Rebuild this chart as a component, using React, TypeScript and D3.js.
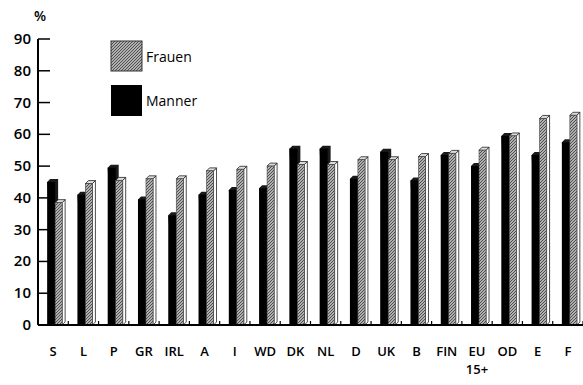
import { useEffect, useRef } from "react"
import * as d3 from "d3"

const categories = ["S", "L", "P", "GR", "IRL", "A", "I", "WD", "DK", "NL", "D", "UK", "B", "FIN", "EU\n15+", "OD", "E", "F"]
const maenner = [45, 41, 49.5, 39.5, 34.5, 41, 42.5, 43, 55.5, 55.5, 46, 54.5, 45.5, 53.5, 50, 59.5, 53.5, 57.5]
const frauen = [38.5, 44.5, 45.5, 46, 46, 48.5, 49, 50, 50.5, 50.5, 52, 52, 53, 54, 55, 59.5, 65, 66]
const yTicks = [0, 10, 20, 30, 40, 50, 60, 70, 80, 90]

const W = 583
const H = 385

export default function App() {
  const svgRef = useRef<SVGSVGElement>(null)

  useEffect(() => {
    if (!svgRef.current) return
    const svg = d3.select(svgRef.current)
    svg.selectAll("*").remove()

    const left = 38
    const right = W
    const top = 39
    const bottom = 325
    const font = "'Open Sans', sans-serif"

    const x = d3.scaleBand<string>().domain(categories).range([left, right])
    const y = d3.scaleLinear().domain([0, 90]).range([bottom, top])

    // hatch pattern for Frauen
    const defs = svg.append("defs")
    const pat = defs
      .append("pattern")
      .attr("id", "hatch")
      .attr("patternUnits", "userSpaceOnUse")
      .attr("width", 3)
      .attr("height", 3)
    pat.append("rect").attr("width", 3).attr("height", 3).attr("fill", "#b0b0b0")
    pat.append("path").attr("d", "M0,3 L3,0").attr("stroke", "#444").attr("stroke-width", 0.9)

    const g = svg.append("g")
    const bw = 8
    const gw = 7
    const depth = 3

    categories.forEach((c, i) => {
      const cx = (x(c) || 0) + x.bandwidth() / 2
      // black bar (Maenner)
      const by = y(maenner[i])
      const bx = cx - 6
      g.append("path")
        .attr("d", `M${bx},${by} l${depth},${-depth} l${bw},0 l0,${bottom - by} l${-depth},${depth} Z`)
        .attr("fill", "#1a1a1a")
      g.append("rect").attr("x", bx).attr("y", by).attr("width", bw).attr("height", bottom - by).attr("fill", "#000")

      // gray bar (Frauen)
      const fy = y(frauen[i])
      const fx = cx + 2
      g.append("path")
        .attr("d", `M${fx + gw},${fy} l${depth},${-depth} l0,${bottom - fy} l${-depth},${depth} Z`)
        .attr("fill", "#fff")
        .attr("stroke", "#222")
        .attr("stroke-width", 0.8)
      g.append("path")
        .attr("d", `M${fx},${fy} l${depth},${-depth} l${gw},0 l${-depth},${depth} Z`)
        .attr("fill", "#ddd")
        .attr("stroke", "#222")
        .attr("stroke-width", 0.8)
      g.append("rect")
        .attr("x", fx)
        .attr("y", fy)
        .attr("width", gw)
        .attr("height", bottom - fy)
        .attr("fill", "url(#hatch)")
        .attr("stroke", "#444")
        .attr("stroke-width", 0.6)

      // separator tick
      g.append("line")
        .attr("x1", (x(c) || 0) + x.bandwidth())
        .attr("x2", (x(c) || 0) + x.bandwidth())
        .attr("y1", bottom)
        .attr("y2", bottom - 4)
        .attr("stroke", "#000")
        .attr("stroke-width", 1.2)

      // category label
      const lines = c.split("\n")
      lines.forEach((t, k) => {
        g.append("text")
          .attr("x", cx)
          .attr("y", 356 + k * 18)
          .attr("text-anchor", "middle")
          .attr("font-family", font)
          .attr("font-size", 13)
          .attr("font-weight", 600)
          .attr("fill", "#000")
          .text(t)
      })
    })

    // x axis line
    g.append("line")
      .attr("x1", left)
      .attr("x2", right)
      .attr("y1", bottom)
      .attr("y2", bottom)
      .attr("stroke", "#000")
      .attr("stroke-width", 2)

    // y axis
    g.append("line")
      .attr("x1", left)
      .attr("x2", left)
      .attr("y1", bottom)
      .attr("y2", top)
      .attr("stroke", "#000")
      .attr("stroke-width", 2)

    yTicks.forEach((t) => {
      g.append("line")
        .attr("x1", left)
        .attr("x2", left + 12)
        .attr("y1", y(t))
        .attr("y2", y(t))
        .attr("stroke", "#000")
        .attr("stroke-width", 1.5)
      g.append("text")
        .attr("x", 31)
        .attr("y", y(t) + 5)
        .attr("text-anchor", "end")
        .attr("font-family", font)
        .attr("font-size", 15)
        .attr("font-weight", 600)
        .attr("fill", "#000")
        .text(t)
    })

    g.append("text")
      .attr("x", 40)
      .attr("y", 21)
      .attr("text-anchor", "middle")
      .attr("font-family", font)
      .attr("font-size", 14)
      .attr("font-weight", 600)
      .attr("fill", "#000")
      .text("%")

    // legend
    const leg = svg.append("g")
    leg.append("rect").attr("x", 111).attr("y", 41).attr("width", 31).attr("height", 30).attr("fill", "url(#hatch)").attr("stroke", "#333")
    leg.append("text").attr("x", 146).attr("y", 62).attr("font-family", font).attr("font-size", 14).attr("fill", "#000").text("Frauen")
    leg.append("rect").attr("x", 111).attr("y", 85).attr("width", 31).attr("height", 31).attr("fill", "#000")
    leg.append("text").attr("x", 146).attr("y", 106).attr("font-family", font).attr("font-size", 14).attr("fill", "#000").text("Manner")
  }, [])

  return (
    <svg
      ref={svgRef}
      width={W}
      height={H}
      style={{ position: "absolute", left: 0, top: 0, background: "#fff" }}
    />
  )
}
